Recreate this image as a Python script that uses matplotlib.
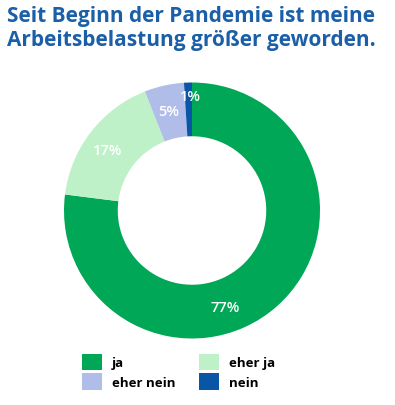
import matplotlib
matplotlib.use("Agg")
import matplotlib.pyplot as plt
import numpy as np

title_lines = ["Seit Beginn der Pandemie ist meine",
               "Arbeitsbelastung größer geworden."]
categories = ["ja", "eher ja", "eher nein", "nein"]
values = [77, 17, 5, 1]
colors = ["#00a756", "#bff1c8", "#b1bde9", "#0a56a6"]

# label placement tweaks (style): angle offset in degrees from slice middle, radius
label_angle_offset = [-22.5, 2.0, 0.5, -0.8]
label_radius = [0.80, 0.81, 0.80, 0.895]

plt.rcParams['font.family'] = ['Open Sans', 'DejaVu Sans']

W, H = 395, 406
fig = plt.figure(figsize=(W / 100, H / 100), dpi=100)

cx, cy, R = 192, 211.5, 128
ax = fig.add_axes([(cx - R) / W, (H - cy - R) / H, 2 * R / W, 2 * R / H])

wedges, _ = ax.pie(values, colors=colors, startangle=90, counterclock=False,
                   radius=1.0, wedgeprops=dict(width=0.42, linewidth=0))
ax.set_xlim(-1, 1)
ax.set_ylim(-1, 1)
ax.set_aspect('equal')
ax.axis('off')

for w, v, da, r in zip(wedges, values, label_angle_offset, label_radius):
    mid = (w.theta1 + w.theta2) / 2 + da
    x = r * np.cos(np.deg2rad(mid))
    y = r * np.sin(np.deg2rad(mid))
    ax.text(x, y, f"{v}%", ha='center', va='center', color='white',
            fontsize=10.5, fontweight='semibold')

for i, line in enumerate(title_lines):
    fig.text(7 / W, 1 - (22 + 24 * i) / H, line, ha='left', va='baseline',
             color='#1a5fa8', fontsize=15, fontweight='bold')

# column-major ordering so rows read: ja, eher ja / eher nein, nein
order = [0, 2, 1, 3]
fig.legend([wedges[i] for i in order], [categories[i] for i in order],
           ncol=2, loc='upper left',
           bbox_to_anchor=(82 / W, 1 - 355 / H), frameon=False,
           borderpad=0, borderaxespad=0, handlelength=1.52, handleheight=1.52,
           handletextpad=0.76, labelspacing=0.23, columnspacing=1.8,
           prop=dict(size=9.5, weight='bold'))

fig.savefig("out.png", dpi=100)
